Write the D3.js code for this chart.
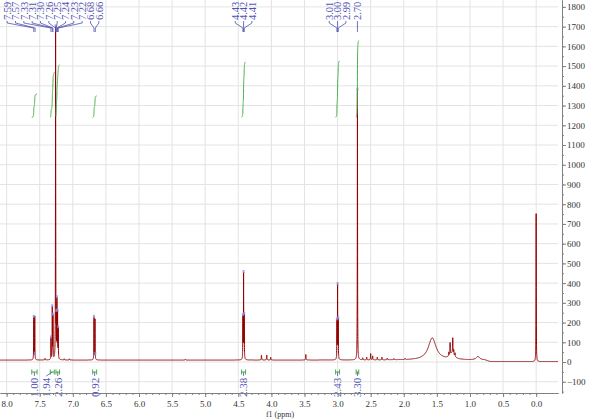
<!DOCTYPE html>
<html>
<head>
<meta charset="utf-8">
<script src="https://cdn.jsdelivr.net/npm/d3@7"></script>
<style>
  body { margin: 0; background: #fff; }
  svg { display: block; font-family: "Liberation Serif", "DejaVu Serif", serif; }
</style>
</head>
<body>
<svg id="chart" width="600" height="419"></svg>
<script>
// peak list: shift (ppm), height, half width (ppm)
var peakShift  = [7.590, 7.575, 7.420, 7.330, 7.310, 7.300, 7.260, 7.250, 7.240, 7.230, 7.220, 7.130, 7.050,
                  6.680, 6.665, 5.300, 4.430, 4.420, 4.410, 4.150, 4.070, 4.010, 3.480,
                  3.010, 3.000, 2.990, 2.700, 2.620, 2.560, 2.500, 2.470, 2.400, 2.330, 2.250, 2.150, 1.980,
                  1.570, 1.270, 1.320, 1.300, 1.260, 1.245, 1.225, 0.880, 0.000];
var peakHeight = [215, 220, 8, 110, 260, 215, 1680, 170, 285, 225, 150, 6, 6,
                  215, 205, 4, 210, 430, 215, 25, 25, 14, 28,
                  190, 370, 195, 1370, 10, 14, 32, 20, 14, 14, 8, 6, 5,
                  112, 30, 20, 62, 78, 24, 18, 17, 750];
var peakWidth  = [0.002, 0.002, 0.003, 0.002, 0.002, 0.002, 0.002, 0.002, 0.002, 0.002, 0.002, 0.003, 0.003,
                  0.002, 0.002, 0.004, 0.002, 0.002, 0.002, 0.003, 0.003, 0.003, 0.003,
                  0.002, 0.002, 0.002, 0.002, 0.003, 0.003, 0.003, 0.003, 0.003, 0.003, 0.004, 0.004, 0.004,
                  0.07, 0.04, 0.003, 0.003, 0.003, 0.003, 0.003, 0.03, 0.002];
var baseShift = [8.10, 0.78, 0.70, -0.33];
var baseLevel = [10, 10, 2, 2];

// picked peak labels at the top
var labelShift = [7.59, 7.57, 7.33, 7.31, 7.30, 7.26, 7.25, 7.24, 7.23, 7.22, 6.68, 6.66,
                  4.43, 4.42, 4.41, 3.01, 3.00, 2.99, 2.70];
var labelText  = ["7.59", "7.57", "7.33", "7.31", "7.30", "7.26", "7.25", "7.24", "7.23", "7.22", "6.68", "6.66",
                  "4.43", "4.42", "4.41", "3.01", "3.00", "2.99", "2.70"];

// integrals
var integFrom  = [7.62, 7.34, 7.255, 6.70, 4.45, 3.03, 2.72];
var integTo    = [7.54, 7.28, 7.20, 6.64, 4.39, 2.97, 2.68];
var integValue = [1.00, 1.94, 2.26, 0.92, 2.38, 2.43, 3.30];

var xTicks = [8.0, 7.5, 7.0, 6.5, 6.0, 5.5, 5.0, 4.5, 4.0, 3.5, 3.0, 2.5, 2.0, 1.5, 1.0, 0.5, 0.0];
var yTicks = [-100, 0, 100, 200, 300, 400, 500, 600, 700, 800, 900, 1000, 1100, 1200, 1300, 1400, 1500, 1600, 1700, 1800];

var plotW = 558, plotH = 393, axisX = 562;
var specColor = "#930000", labColor = "#5252b4", intColor = "#46b04a";

var x = d3.scaleLinear().domain([8.1, -0.33]).range([0, plotW]);
var y = d3.scaleLinear().domain([-157, 1835]).range([plotH, 0]);
var base = d3.scaleLinear().domain(baseShift).range(baseLevel);

function signal(p) {
  var s = 0;
  for (var i = 0; i < peakShift.length; i++) {
    var d = (p - peakShift[i]) / peakWidth[i];
    s += peakHeight[i] / (1 + d * d);
  }
  return s;
}

var svg = d3.select("#chart");

// grid
svg.append("g").selectAll("line").data(xTicks).enter().append("line")
  .attr("x1", function(d) { return x(d); }).attr("x2", function(d) { return x(d); })
  .attr("y1", 0).attr("y2", plotH)
  .attr("stroke", "#e3e3e3");
svg.append("g").selectAll("line").data(yTicks).enter().append("line")
  .attr("x1", 0).attr("x2", plotW)
  .attr("y1", function(d) { return y(d); }).attr("y2", function(d) { return y(d); })
  .attr("stroke", "#e3e3e3");

// spectrum
var pts = [];
for (var p = 8.1; p >= -0.33; p -= 0.0005) pts.push([p, base(p) + signal(p)]);
svg.append("path")
  .attr("d", d3.line().x(function(d) { return x(d[0]); }).y(function(d) { return y(d[1]); })(pts))
  .attr("fill", "none").attr("stroke", specColor).attr("stroke-width", 1);

// peak top markers
svg.append("g").selectAll("rect").data(labelShift).enter().append("rect")
  .attr("x", function(d) { return x(d) - 1; })
  .attr("y", function(d) { return y(base(d) + signal(d)) - 2; })
  .attr("width", 2).attr("height", 3)
  .attr("fill", "#8f8fe0").attr("opacity", 0.8);

// spread labels so they do not overlap
function spread(px, gap, minX, center) {
  var n = px.length, pos = px.slice(), i = 0;
  if (center) {
    while (i < n) {
      var j = i;
      while (j + 1 < n && px[j + 1] - px[j] < gap) j++;
      var m = d3.mean(px.slice(i, j + 1));
      for (var k = i; k <= j; k++) pos[k] = m + (k - (i + j) / 2) * gap;
      i = j + 1;
    }
  }
  for (var k = n - 2; k >= 0; k--) pos[k] = Math.min(pos[k], pos[k + 1] - gap);
  pos[0] = Math.max(pos[0], minX);
  for (var k = 1; k < n; k++) pos[k] = Math.max(pos[k], pos[k - 1] + gap);
  return pos;
}

// peak labels
var peakX = labelShift.map(function(d) { return x(d); });
var labX = spread(peakX, 8.33, 4, true);
var lab = svg.append("g");
labelShift.forEach(function(d, i) {
  lab.append("path")
    .attr("d", "M" + labX[i] + ",21V23L" + peakX[i] + ",28V32")
    .attr("fill", "none").attr("stroke", labColor).attr("stroke-width", 0.8);
  lab.append("text")
    .attr("transform", "translate(" + labX[i] + ",20) rotate(-90)")
    .attr("dy", "0.35em")
    .attr("font-size", 10.5).attr("fill", labColor)
    .text(labelText[i]);
});

// integral curves
var intBase = 1240, intUnit = 118;
var ig = svg.append("g");
integFrom.forEach(function(a, i) {
  var b = integTo[i], seg = [], sum = 0;
  for (var p = a; p >= b; p -= 0.0005) { sum += signal(p); seg.push([p, sum]); }
  seg.forEach(function(s) { s[1] = intBase + s[1] / sum * integValue[i] * intUnit; });
  ig.append("path")
    .attr("d", d3.line().x(function(d) { return x(d[0]); }).y(function(d) { return y(d[1]); })(seg))
    .attr("fill", "none").attr("stroke", intColor).attr("stroke-width", 1);
});

// integral brackets and values
var brX = integFrom.map(function(a, i) { return (x(a) + x(integTo[i])) / 2; });
var valX = spread(brX, 11.5, 4, false);
var iv = svg.append("g");
integFrom.forEach(function(a, i) {
  var x1 = x(a), x2 = x(integTo[i]), yb = 372;
  iv.append("path")
    .attr("d", "M" + x1 + "," + (yb - 2.5) + "V" + (yb + 2.5) + "M" + x1 + "," + yb + "H" + x2 +
               "M" + x2 + "," + (yb - 2.5) + "V" + (yb + 2.5))
    .attr("fill", "none").attr("stroke", intColor).attr("stroke-width", 1);
  iv.append("path")
    .attr("d", "M" + brX[i] + "," + yb + "L" + valX[i] + "," + (yb + 4))
    .attr("fill", "none").attr("stroke", labColor).attr("stroke-width", 0.8);
  iv.append("text")
    .attr("transform", "translate(" + valX[i] + ",397) rotate(-90)")
    .attr("dy", "0.35em")
    .attr("font-size", 11).attr("fill", labColor)
    .text(d3.format(".2f")(integValue[i]));
});

// bottom axis
var gx = svg.append("g").attr("transform", "translate(0," + plotH + ")");
gx.call(d3.axisBottom(x).tickValues(d3.range(81).map(function(k) { return k / 10; }))
  .tickSize(2).tickFormat("").tickSizeOuter(0));
gx.append("g").call(d3.axisBottom(x).tickValues(xTicks).tickSize(4).tickFormat(d3.format(".1f")).tickSizeOuter(0));
gx.selectAll("path.domain").attr("stroke", "#808080");
gx.selectAll("line").attr("stroke", "#808080");
gx.selectAll("text").attr("font-size", 9).attr("fill", "#333").attr("font-family", "Liberation Serif, serif").attr("dy", "0.8em");
svg.append("text").attr("x", 280).attr("y", 417).attr("text-anchor", "middle")
  .attr("font-size", 8).attr("fill", "#333").text("f1 (ppm)");

// right axis
var gy = svg.append("g").attr("transform", "translate(" + axisX + ",0)");
gy.call(d3.axisRight(y).tickValues(d3.range(-150, 1801, 50)).tickSize(2).tickFormat("").tickSizeOuter(0));
gy.append("g").call(d3.axisRight(y).tickValues(yTicks).tickSize(4).tickSizeOuter(0).tickFormat(d3.format("d")));
gy.selectAll("path.domain").attr("stroke", "#808080");
gy.selectAll("line").attr("stroke", "#808080");
gy.selectAll("text").attr("font-size", 9).attr("fill", "#333").attr("font-family", "Liberation Serif, serif").attr("x", 5);
</script>
</body>
</html>
